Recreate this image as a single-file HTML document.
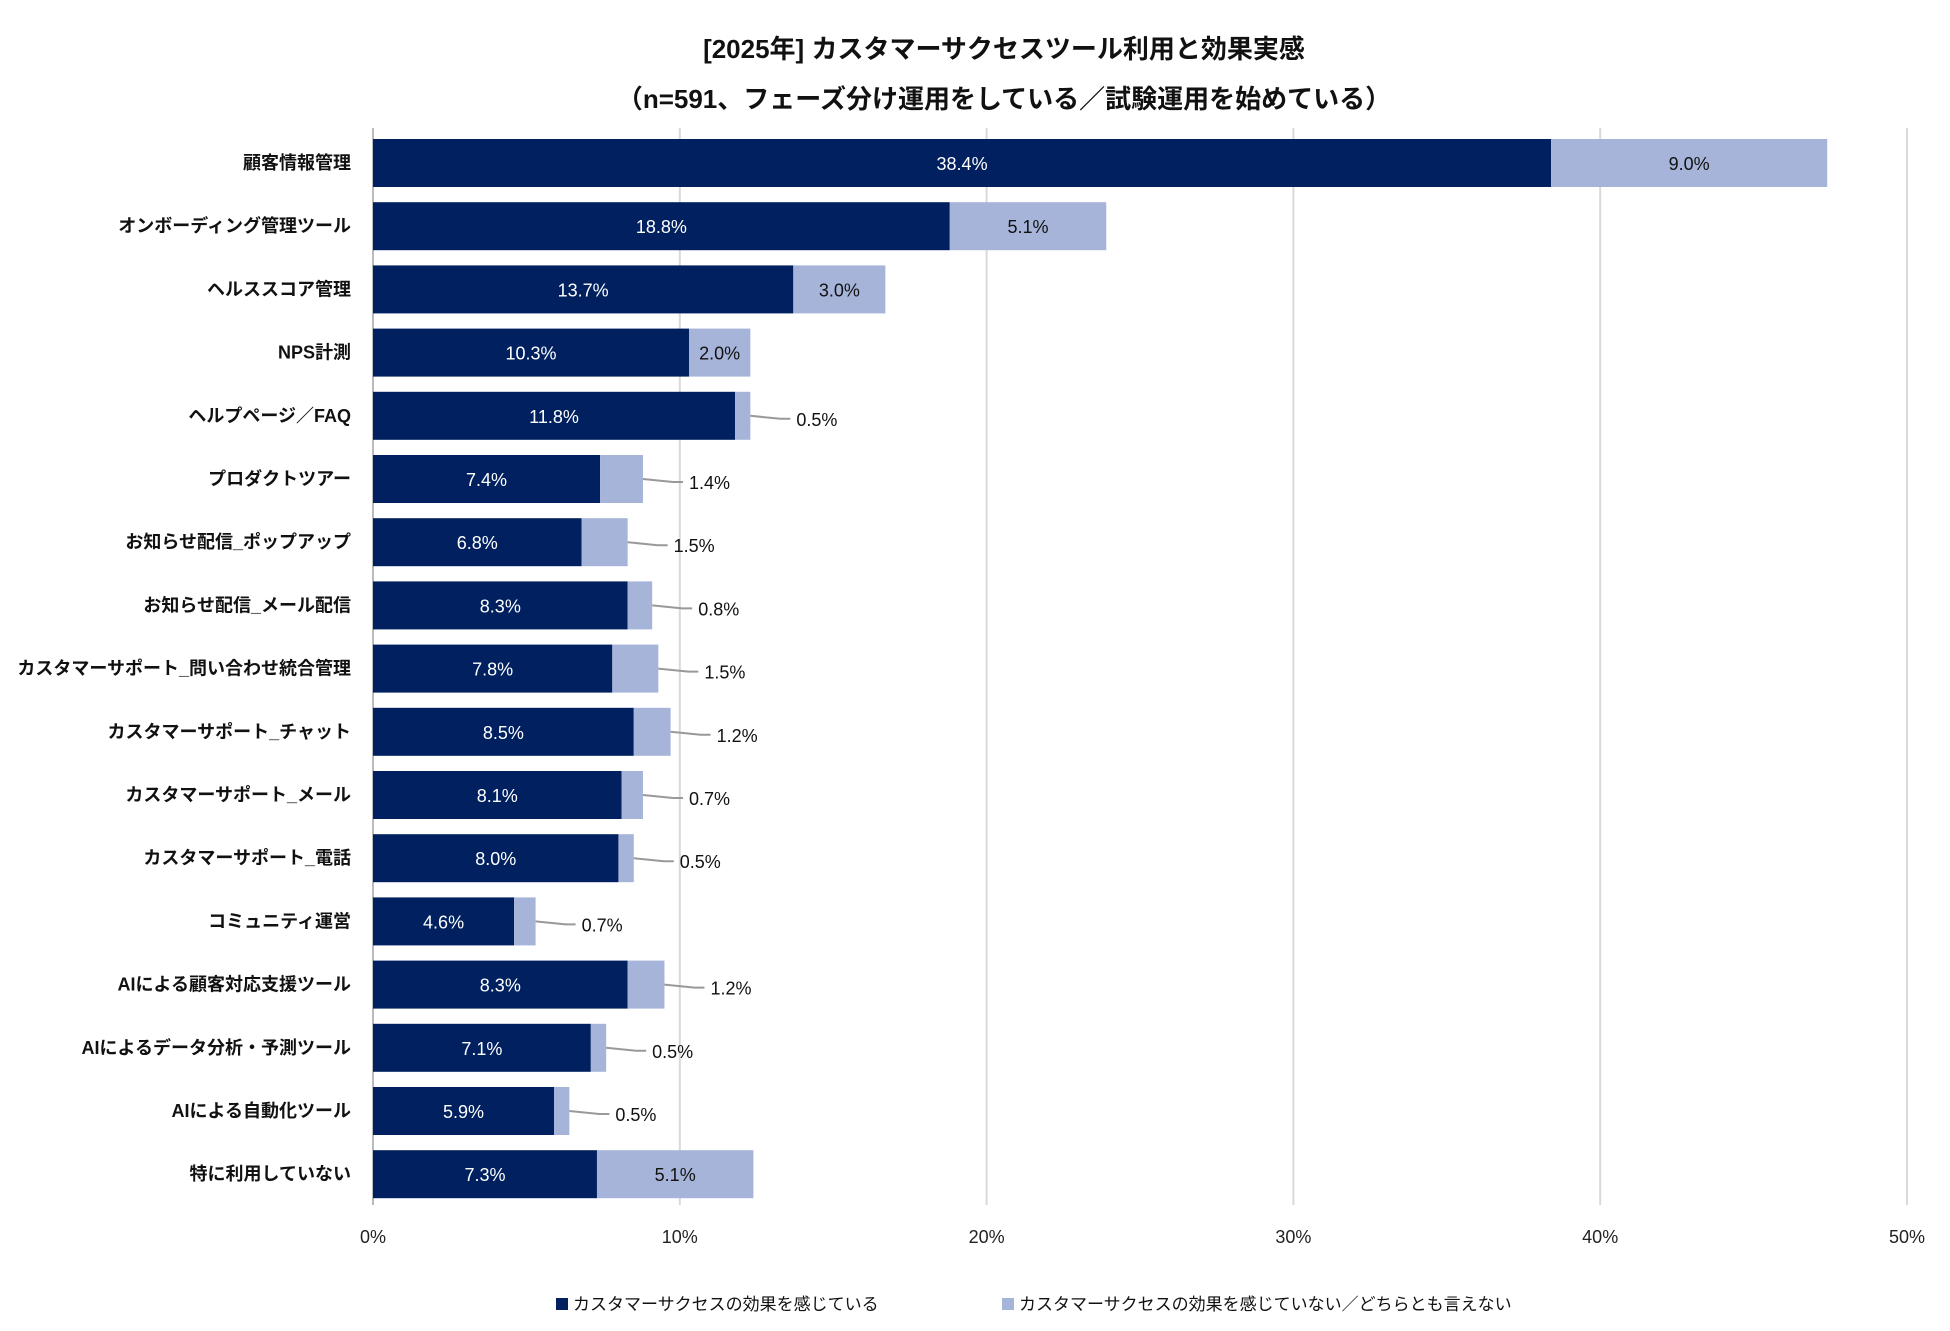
<!DOCTYPE html>
<html><head><meta charset="utf-8">
<style>
html,body{margin:0;padding:0;background:#fff;}
svg{display:block;font-family:"Liberation Sans","Noto Sans CJK JP",sans-serif;}
</style></head>
<body>
<svg id="chart" width="1950" height="1331" viewBox="0 0 1950 1331">
<text x="1004" y="58" text-anchor="middle" font-size="26" font-weight="bold" fill="#111">[2025年]  カスタマーサクセスツール利用と効果実感</text>
<text x="1004" y="108" text-anchor="middle" font-size="26" font-weight="bold" fill="#111">（n=591、フェーズ分け運用をしている／試験運用を始めている）</text>
<g id="grid"></g>
<g id="bars"></g>
<g id="labels"></g>
<g id="xticks"></g>
<g>
<rect x="556" y="1298" width="12" height="12" fill="#00205f"/>
<text x="573" y="1310" font-size="17" fill="#111">カスタマーサクセスの効果を感じている</text>
<rect x="1002" y="1298" width="12" height="12" fill="#a6b4da"/>
<text x="1019" y="1310" font-size="17" fill="#111">カスタマーサクセスの効果を感じていない／どちらとも言えない</text>
</g>
</svg>
<script>
const categories=["顧客情報管理","オンボーディング管理ツール","ヘルススコア管理","NPS計測","ヘルプページ／FAQ","プロダクトツアー","お知らせ配信_ポップアップ","お知らせ配信_メール配信","カスタマーサポート_問い合わせ統合管理","カスタマーサポート_チャット","カスタマーサポート_メール","カスタマーサポート_電話","コミュニティ運営","AIによる顧客対応支援ツール","AIによるデータ分析・予測ツール","AIによる自動化ツール","特に利用していない"];
const effective=[38.4,18.8,13.7,10.3,11.8,7.4,6.8,8.3,7.8,8.5,8.1,8.0,4.6,8.3,7.1,5.9,7.3];
const notEffective=[9.0,5.1,3.0,2.0,0.5,1.4,1.5,0.8,1.5,1.2,0.7,0.5,0.7,1.2,0.5,0.5,5.1];
const ticks=[0,10,20,30,40,50];
const NS="http://www.w3.org/2000/svg";
const x0=373,x1=1907,y0=163,step=63.2,bh=48;
const xs=v=>x0+(x1-x0)*v/50;
const yc=i=>y0+i*step;
function mk(tag,attrs,parent,txt){const e=document.createElementNS(NS,tag);for(const k in attrs)e.setAttribute(k,attrs[k]);if(txt!==undefined)e.textContent=txt;parent.appendChild(e);return e;}
const grid=document.getElementById('grid'),bars=document.getElementById('bars'),labels=document.getElementById('labels'),xt=document.getElementById('xticks');
ticks.forEach(t=>{
  const l=mk('line',{x1:xs(t),x2:xs(t),y1:128,y2:1205,stroke:t===0?'#bbb':'#d9d9d9','stroke-width':2},grid);
  
  
  const tx=mk('text',{x:xs(t),y:1243,'text-anchor':'middle','font-size':18,fill:'#222'},xt,t+'%');
  
  
});
categories.forEach((c,i)=>{
  const y=yc(i);
  const lab=mk('text',{x:351,y:y+6,'text-anchor':'end','font-size':18,'font-weight':'bold',fill:'#111'},labels,c);
  
  
  const a=effective[i],b=notEffective[i];
  const r1=mk('rect',{x:xs(0),y:y-bh/2,width:xs(a)-xs(0),height:bh,fill:'#00205f'},bars);
  
  
  const r2=mk('rect',{x:xs(a),y:y-bh/2,width:xs(a+b)-xs(a),height:bh,fill:'#a6b4da'},bars);
  
  
  const t1=mk('text',{x:(xs(0)+xs(a))/2,y:y+7,'text-anchor':'middle','font-size':18,fill:'#fff'},bars,a.toFixed(1)+'%');
  
  
  if(b>=2){
    const t2=mk('text',{x:(xs(a)+xs(a+b))/2,y:y+7,'text-anchor':'middle','font-size':18,fill:'#111'},bars,b.toFixed(1)+'%');
    
    
  }else{
    const e=xs(a+b);
    const ln=mk('polyline',{points:`${e},${y} ${e+30},${y+3} ${e+40},${y+3}`,fill:'none',stroke:'#999','stroke-width':2},bars);
    
    
    const t2=mk('text',{x:e+46,y:y+10,'font-size':18,fill:'#111'},bars,b.toFixed(1)+'%');
    
    
  }
});
</script>
</body></html>
